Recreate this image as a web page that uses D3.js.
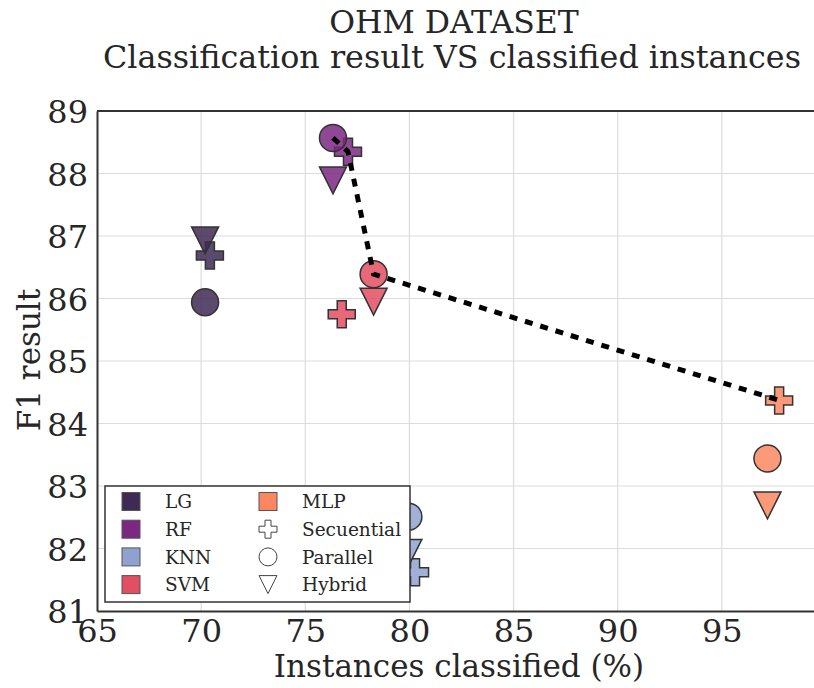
<!DOCTYPE html>
<html>
<head>
<meta charset="utf-8">
<script src="https://cdn.jsdelivr.net/npm/d3@7"></script>
<style>
  body { margin: 0; background: #fff; }
  svg text { font-family: "DejaVu Serif", serif; fill: #262626; }
</style>
</head>
<body>
<svg id="chart" width="814" height="688"></svg>
<script>
"use strict";

const classifiers = ['LG', 'RF', 'KNN', 'SVM', 'MLP'];
const classifierColors = ['#3f2a55', '#7b2883', '#8fa2cf', '#e24e62', '#fb8761'];
const modes = ['Secuential', 'Parallel', 'Hybrid'];

// [classifier, mode, instances classified (%), F1]
const points = [
    ['LG', 'Secuential', 70.42, 86.69],
    ['LG', 'Parallel', 70.19, 85.94],
    ['LG', 'Hybrid', 70.19, 86.93],
    ['RF', 'Secuential', 77.05, 88.35],
    ['RF', 'Parallel', 76.33, 88.57],
    ['RF', 'Hybrid', 76.33, 87.89],
    ['KNN', 'Secuential', 80.27, 81.62],
    ['KNN', 'Parallel', 79.95, 82.51],
    ['KNN', 'Hybrid', 79.95, 81.93],
    ['SVM', 'Secuential', 76.75, 85.75],
    ['SVM', 'Parallel', 78.28, 86.39],
    ['SVM', 'Hybrid', 78.28, 85.95],
    ['MLP', 'Secuential', 97.75, 84.37],
    ['MLP', 'Parallel', 97.19, 83.44],
    ['MLP', 'Hybrid', 97.19, 82.69]
];

// best trade-off line
const frontX = [76.33, 77.05, 78.28, 97.75];
const frontY = [88.57, 88.35, 86.39, 84.37];

const xTicks = [65, 70, 75, 80, 85, 90, 95];
const yTicks = [81, 82, 83, 84, 85, 86, 87, 88, 89];

const svg = d3.select('#chart');
const margin = { left: 97, top: 111, right: -12, bottom: 77 };
const width = 814 - margin.left - margin.right;
const height = 688 - margin.top - margin.bottom;

const x = d3.scaleLinear().domain([65, 100]).range([0, width]);
const y = d3.scaleLinear().domain([81, 89]).range([height, 0]);
const color = d3.scaleOrdinal().domain(classifiers).range(classifierColors);

const g = svg.append('g').attr('transform', `translate(${margin.left},${margin.top})`);

// grid
g.append('g').selectAll('line').data(xTicks.slice(1))
    .enter().append('line')
    .attr('x1', d => x(d)).attr('x2', d => x(d))
    .attr('y1', 0).attr('y2', height)
    .attr('stroke', '#dcdcdc').attr('stroke-width', 1.2);
g.append('g').selectAll('line').data(yTicks.slice(1, -1))
    .enter().append('line')
    .attr('x1', 0).attr('x2', width)
    .attr('y1', d => y(d)).attr('y2', d => y(d))
    .attr('stroke', '#dcdcdc').attr('stroke-width', 1.2);

// axes
const xAxis = g.append('g').attr('transform', `translate(0,${height})`)
    .call(d3.axisBottom(x).tickValues(xTicks).tickSize(0).tickPadding(5));
const yAxis = g.append('g')
    .call(d3.axisLeft(y).tickValues(yTicks).tickSize(0).tickPadding(9));
[xAxis, yAxis].forEach(a => {
    a.select('.domain').attr('stroke', '#333').attr('stroke-width', 2);
    a.selectAll('text').style('font-size', '32px').attr('fill', '#262626');
});
xAxis.selectAll('text').attr('dy', '0.8em');
yAxis.selectAll('text').attr('dy', '0.36em');
g.append('line').attr('x1', 0).attr('x2', width).attr('y1', 0).attr('y2', 0)
    .attr('stroke', '#333').attr('stroke-width', 2);

// markers
const markerPath = (mode, s) => {
    if (mode === 'Hybrid') {
        const h = s / 2;
        return `M${-h},${-h}L${h},${-h}L0,${h}Z`;
    }
    if (mode === 'Parallel') return d3.symbol().type(d3.symbolCircle).size(Math.PI * s * s / 4)();
    const a = s / 2, b = s / 6;
    return `M${-b},${-a}H${b}V${-b}H${a}V${b}H${b}V${a}H${-b}V${b}H${-a}V${-b}H${-b}Z`;
};

const drawOrder = ['Secuential', 'Parallel', 'Hybrid'];
g.append('g').selectAll('path')
    .data(points.slice().sort((a, b) => drawOrder.indexOf(a[1]) - drawOrder.indexOf(b[1])))
    .enter().append('path')
    .attr('transform', d => `translate(${x(d[2])},${y(d[3])})`)
    .attr('d', d => markerPath(d[1], 27))
    .attr('fill', d => color(d[0]))
    .attr('fill-opacity', 0.85)
    .attr('stroke', '#333')
    .attr('stroke-width', 1.5);

// trade-off line
g.append('path')
    .datum(frontX.map((v, i) => [v, frontY[i]]))
    .attr('d', d3.line().x(d => x(d[0])).y(d => y(d[1])))
    .attr('fill', 'none')
    .attr('stroke', '#000')
    .attr('stroke-width', 5)
    .attr('stroke-dasharray', '8,8');

// legend
const legend = g.append('g').attr('transform', `translate(${8},${375})`);
legend.append('rect')
    .attr('width', 305).attr('height', 116)
    .attr('fill', '#fff').attr('stroke', '#333').attr('stroke-width', 1.5);
classifiers.forEach((c, i) => {
    const col = i < 4 ? 0 : 1;
    const row = i < 4 ? i : 0;
    const item = legend.append('g')
        .attr('transform', `translate(${26 + col * 137},${15.5 + row * 27.7})`);
    item.append('rect').attr('x', -9).attr('y', -9).attr('width', 18).attr('height', 18)
        .attr('fill', color(c)).attr('stroke', '#555').attr('stroke-width', 1);
    item.append('text').attr('x', 34).attr('dy', '0.36em').style('font-size', '18.5px').text(c);
});
modes.forEach((m, i) => {
    const item = legend.append('g')
        .attr('transform', `translate(${163},${15.5 + (i + 1) * 27.7})`);
    item.append('path').attr('d', markerPath(m, 18))
        .attr('fill', '#fff').attr('stroke', '#444').attr('stroke-width', 1);
    item.append('text').attr('x', 34).attr('dy', '0.36em').style('font-size', '18.5px').text(m);
});

// labels
svg.append('text').attr('x', 454).attr('y', 33).attr('text-anchor', 'middle')
    .style('font-size', '31.5px').text('OHM DATASET');
svg.append('text').attr('x', 452).attr('y', 68).attr('text-anchor', 'middle')
    .style('font-size', '31.8px').text('Classification result VS classified instances');
svg.append('text').attr('x', 459).attr('y', 677).attr('text-anchor', 'middle')
    .style('font-size', '31px').text('Instances classified (%)');
svg.append('text').attr('transform', 'translate(40,360) rotate(-90)').attr('text-anchor', 'middle')
    .style('font-size', '31px').text('F1 result');
</script>
</body>
</html>
